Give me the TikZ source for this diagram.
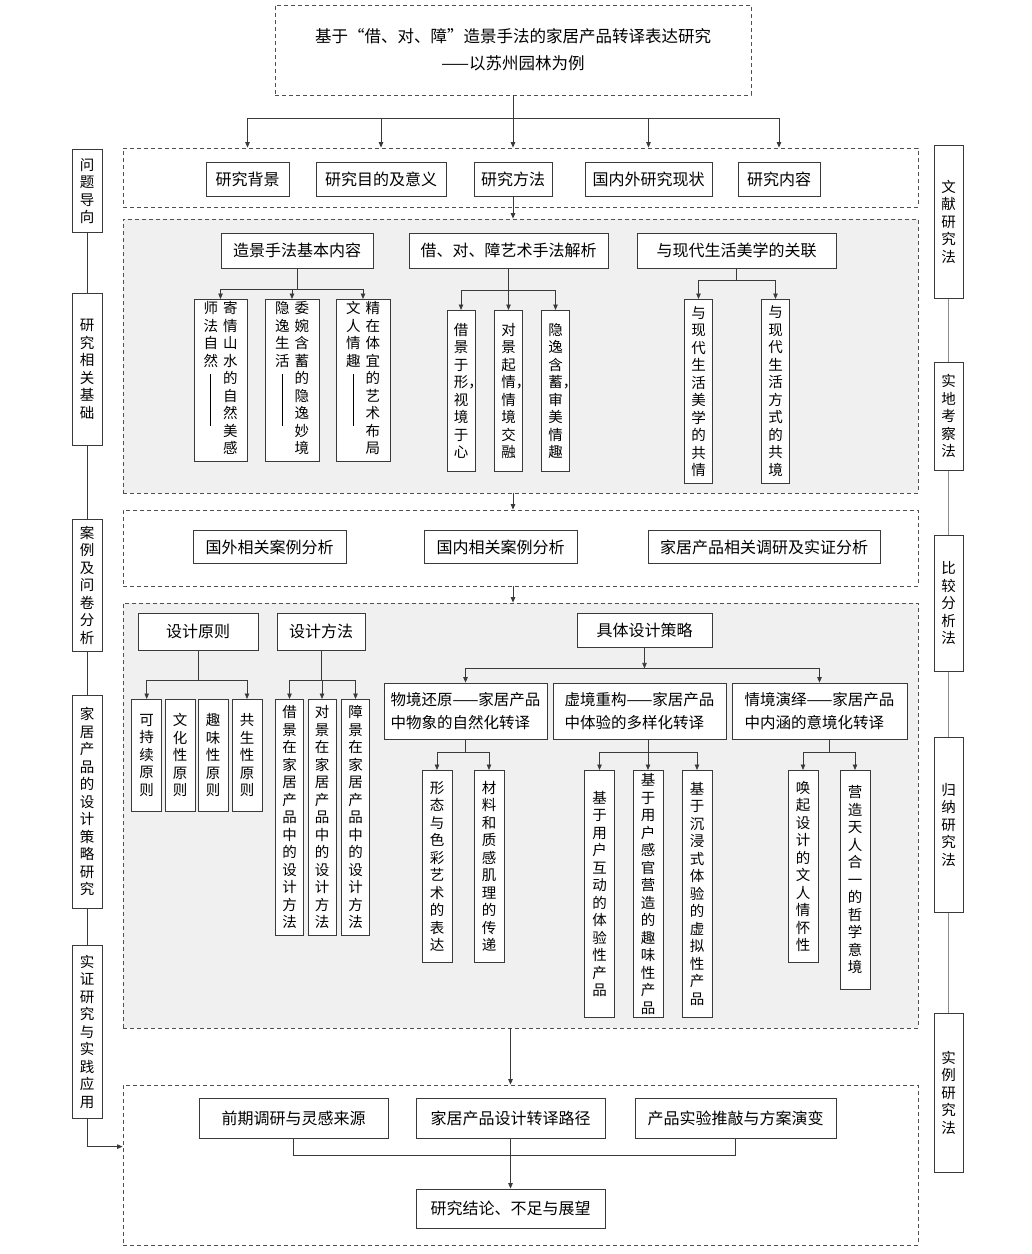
\documentclass[tikz,border=0pt]{standalone}
\usepackage{fontspec}
\setmainfont{Noto Sans CJK SC}
\usetikzlibrary{arrows.meta,fit,calc}
\definecolor{ink}{HTML}{3A3A3A}
\definecolor{dashink}{HTML}{505050}
\definecolor{panel}{HTML}{F0F0F0}
\definecolor{railgray}{HTML}{8C8C8C}
\newcommand{\hfont}{\fontsize{16}{19}\selectfont}
\newcommand{\vfont}{\fontsize{14.5}{17.5}\selectfont}
\newcommand{\tfont}{\fontsize{16.5}{27}\selectfont}
\newcommand{\colrule}{\rule{0.6pt}{52pt}}
\tikzset{
  box/.style={draw=ink, fill=white, line width=0.8pt, inner sep=2pt, align=center, font=\hfont},
  vbox/.style={box, anchor=north, font=\vfont},
  sect/.style={draw=dashink, dash pattern=on 4pt off 3pt, line width=0.8pt, inner sep=0pt},
  panelsect/.style={sect, fill=panel},
  link/.style={draw=ink, line width=0.8pt},
  arr/.style={link, -{Triangle[length=5.5pt,width=4.5pt]}},
  rail/.style={draw=railgray, line width=1.2pt},
}

\begin{document}
\begin{tikzpicture}[x=1pt,y=-1pt]
\useasboundingbox[fill=white] (0,0) rectangle (1032,1254);

\node[sect, minimum width=476pt, minimum height=90pt, align=center, font=\tfont] (title) at (513,50)
  {基于“借、对、障”造景手法的家居产品转译表达研究\\——以苏州园林为例};

% introduction
\node[sect, fit={(123,148) (918,207)}] (s1) {};
\node[box, minimum width=83pt, minimum height=34pt] (b1) at (247.5,179) {研究背景};
\node[box, minimum width=130pt, minimum height=34pt] (b2) at (381,179) {研究目的及意义};
\node[box, minimum width=78pt, minimum height=34pt] (b3) at (513,179) {研究方法};
\node[box, minimum width=127pt, minimum height=34pt] (b4) at (648.5,179) {国内外研究现状};
\node[box, minimum width=82pt, minimum height=34pt] (b5) at (779,179) {研究内容};
\coordinate (tsplit) at (513,118);
\draw[link] (title.south) -- (tsplit);
\draw[link] (tsplit -| b1) -- (tsplit -| b5);
\foreach \b in {b1,b2,b3,b4,b5}
  \draw[arr] (tsplit -| \b) -- (\b |- s1.north);

% theory
\node[panelsect, fit={(123,219) (918,493)}] (s2) {};
\draw[arr] (b3.south) -- (b3 |- s2.north);
\node[box, minimum width=152pt, minimum height=35pt] (p1) at (297,250.5) {造景手法基本内容};
\node[box, minimum width=199pt, minimum height=35pt] (p2) at (508.5,250.5) {借、对、障艺术手法解析};
\node[box, minimum width=199pt, minimum height=35pt] (p3) at (736.5,250.5) {与现代生活美学的关联};
\node[vbox, minimum width=53pt, minimum height=162pt] (c1a) at (220.5,299)
  {\begin{tabular}[t]{@{}c@{}}师\\法\\自\\然\\[2pt]\colrule\end{tabular}\hspace{5pt}\begin{tabular}[t]{@{}c@{}}寄\\情\\山\\水\\的\\自\\然\\美\\感\end{tabular}};
\node[vbox, minimum width=54pt, minimum height=162pt] (c1b) at (292,299)
  {\begin{tabular}[t]{@{}c@{}}隐\\逸\\生\\活\\[2pt]\colrule\end{tabular}\hspace{5pt}\begin{tabular}[t]{@{}c@{}}委\\婉\\含\\蓄\\的\\隐\\逸\\妙\\境\end{tabular}};
\node[vbox, minimum width=54pt, minimum height=162pt] (c1c) at (363,299)
  {\begin{tabular}[t]{@{}c@{}}文\\人\\情\\趣\\[2pt]\colrule\end{tabular}\hspace{5pt}\begin{tabular}[t]{@{}c@{}}精\\在\\体\\宜\\的\\艺\\术\\布\\局\end{tabular}};
\node[vbox, minimum width=28pt, minimum height=161pt] (c2a) at (461,310) {借\\景\\于\\形\rlap{，}\\视\\境\\于\\心};
\node[vbox, minimum width=28pt, minimum height=161pt] (c2b) at (508.5,310) {对\\景\\起\\情\rlap{，}\\情\\境\\交\\融};
\node[vbox, minimum width=28pt, minimum height=161pt] (c2c) at (555.5,310) {隐\\逸\\含\\蓄\rlap{，}\\审\\美\\情\\趣};
\node[vbox, minimum width=28pt, minimum height=184pt] (c3a) at (698.5,299) {与\\现\\代\\生\\活\\美\\学\\的\\共\\情};
\node[vbox, minimum width=28pt, minimum height=184pt] (c3b) at (775.5,299) {与\\现\\代\\生\\活\\方\\式\\的\\共\\境};
\draw[link] (p1.south) -- ++(0,21) coordinate (p1j);
\draw[link] (p1j -| c1a) -- (p1j -| c1c);
\foreach \c in {c1a,c1b,c1c} \draw[arr] (p1j -| \c) -- (\c.north);
\draw[link] (p2.south) -- ++(0,22) coordinate (p2j);
\draw[link] (p2j -| c2a) -- (p2j -| c2c);
\foreach \c in {c2a,c2b,c2c} \draw[arr] (p2j -| \c) -- (\c.north);
\draw[link] (p3.south) -- ++(0,12) coordinate (p3j);
\draw[link] (p3j -| c3a) -- (p3j -| c3b);
\foreach \c in {c3a,c3b} \draw[arr] (p3j -| \c) -- (\c.north);

% cases
\node[sect, fit={(123,510) (918,586)}] (s3) {};
\draw[arr] (s2.south -| b3) -- (s3.north -| b3);
\node[box, minimum width=153pt, minimum height=33pt] (d1) at (269.5,547) {国外相关案例分析};
\node[box, minimum width=153pt, minimum height=33pt] (d2) at (500.5,547) {国内相关案例分析};
\node[box, minimum width=232pt, minimum height=33pt] (d3) at (764,547) {家居产品相关调研及实证分析};

% strategy
\node[panelsect, fit={(123,603) (918,1028)}] (s4) {};
\draw[arr] (s3.south -| b3) -- (s4.north -| b3);
\node[box, minimum width=120pt, minimum height=37pt] (q1) at (198,631.5) {设计原则};
\node[box, minimum width=88pt, minimum height=37pt] (q2) at (321,631.5) {设计方法};
\node[box, minimum width=135pt, minimum height=34pt] (q3) at (644.5,630) {具体设计策略};
\node[vbox, minimum width=30pt, minimum height=112pt] (k1) at (146.7,699) {可\\持\\续\\原\\则};
\node[vbox, minimum width=30pt, minimum height=112pt] (k2) at (180,699) {文\\化\\性\\原\\则};
\node[vbox, minimum width=30pt, minimum height=112pt] (k3) at (213,699) {趣\\味\\性\\原\\则};
\node[vbox, minimum width=30pt, minimum height=112pt] (k4) at (247,699) {共\\生\\性\\原\\则};
\node[vbox, minimum width=28pt, minimum height=236pt] (m1) at (289.5,699) {借\\景\\在\\家\\居\\产\\品\\中\\的\\设\\计\\方\\法};
\node[vbox, minimum width=28pt, minimum height=236pt] (m2) at (322,699) {对\\景\\在\\家\\居\\产\\品\\中\\的\\设\\计\\方\\法};
\node[vbox, minimum width=28pt, minimum height=236pt] (m3) at (355.5,699) {障\\景\\在\\家\\居\\产\\品\\中\\的\\设\\计\\方\\法};
\draw[link] (q1.south) -- ++(0,30) coordinate (q1j);
\draw[link] (q1j -| k1) -- (q1j -| k4);
\foreach \c in {k1,k4} \draw[arr] (q1j -| \c) -- (\c.north);
\draw[link] (q2.south) -- ++(0,30) coordinate (q2j);
\draw[link] (q2j -| m1) -- (q2j -| m3);
\foreach \c in {m1,m2,m3} \draw[arr] (q2j -| \c) -- (\c.north);

\node[box, align=left, font=\fontsize{15.5}{23}\selectfont, minimum width=163pt, minimum height=56pt] (r1) at (465.5,711) {物境还原——家居产品\\中物象的自然化转译};
\node[box, align=left, font=\fontsize{15.5}{23}\selectfont, minimum width=173pt, minimum height=56pt] (r2) at (639.5,711) {虚境重构——家居产品\\中体验的多样化转译};
\node[box, align=left, font=\fontsize{15.5}{23}\selectfont, minimum width=175pt, minimum height=56pt] (r3) at (819.5,711) {情境演绎——家居产品\\中内涵的意境化转译};
\draw[arr] (q3.south) -- ++(0,21) coordinate (q3j);
\draw[link] (q3j -| r1) -- (q3j -| r3);
\foreach \c in {r1,r3} \draw[arr] (q3j -| \c) -- (\c.north);

\node[vbox, minimum width=30pt, minimum height=192pt] (e1) at (437,770) {形\\态\\与\\色\\彩\\艺\\术\\的\\表\\达};
\node[vbox, minimum width=30pt, minimum height=192pt] (e2) at (489,770) {材\\料\\和\\质\\感\\肌\\理\\的\\传\\递};
\node[vbox, minimum width=30pt, minimum height=247pt] (f1) at (599.5,770) {基\\于\\用\\户\\互\\动\\的\\体\\验\\性\\产\\品};
\node[vbox, minimum width=30pt, minimum height=247pt] (f2) at (648,770) {基\\于\\用\\户\\感\\官\\营\\造\\的\\趣\\味\\性\\产\\品};
\node[vbox, minimum width=30pt, minimum height=247pt] (f3) at (697,770) {基\\于\\沉\\浸\\式\\体\\验\\的\\虚\\拟\\性\\产\\品};
\node[vbox, minimum width=30pt, minimum height=192pt] (g1) at (803,770) {唤\\起\\设\\计\\的\\文\\人\\情\\怀\\性};
\node[vbox, minimum width=30pt, minimum height=219pt] (g2) at (855,770) {营\\造\\天\\人\\合\\一\\的\\哲\\学\\意\\境};
\draw[link] (r1.south) -- ++(0,13) coordinate (r1j);
\draw[link] (r1j -| e1) -- (r1j -| e2);
\foreach \c in {e1,e2} \draw[arr] (r1j -| \c) -- (\c.north);
\draw[link] (r2.south -| f2) -- ++(0,13) coordinate (r2j);
\draw[link] (r2j -| f1) -- (r2j -| f3);
\foreach \c in {f1,f2,f3} \draw[arr] (r2j -| \c) -- (\c.north);
\coordinate (g12) at ($(g1.north)!.5!(g2.north)$);
\draw[link] (r3.south -| g12) -- ++(0,13) coordinate (r3j);
\draw[link] (r3j -| g1) -- (r3j -| g2);
\foreach \c in {g1,g2} \draw[arr] (r3j -| \c) -- (\c.north);

% practice
\node[sect, fit={(123,1085) (918,1245)}] (s5) {};
\node[box, minimum width=189pt, minimum height=40pt] (h1) at (293.5,1118) {前期调研与灵感来源};
\node[box, minimum width=189pt, minimum height=40pt] (h2) at (510.5,1118) {家居产品设计转译路径};
\node[box, minimum width=201pt, minimum height=40pt] (h3) at (735.5,1118) {产品实验推敲与方案演变};
\node[box, minimum width=189pt, minimum height=39pt] (h4) at (510.5,1208.5) {研究结论、不足与展望};
\draw[arr] (s4.south -| h2) -- (s5.north -| h2);
\draw[link] (h1.south) -- ++(0,17) -| (h3.south);
\draw[arr] (h2.south) -- (h4.north);

% left column
\node[vbox, minimum width=30pt, minimum height=83pt] (L1) at (87,149) {问\\题\\导\\向};
\node[vbox, minimum width=30pt, minimum height=152pt] (L2) at (87,293) {研\\究\\相\\关\\基\\础};
\node[vbox, minimum width=30pt, minimum height=132pt] (L3) at (87,519) {案\\例\\及\\问\\卷\\分\\析};
\node[vbox, minimum width=30pt, minimum height=213pt] (L4) at (87,695) {家\\居\\产\\品\\的\\设\\计\\策\\略\\研\\究};
\node[vbox, minimum width=30pt, minimum height=173pt] (L5) at (87,945) {实\\证\\研\\究\\与\\实\\践\\应\\用};
\foreach \a/\b in {L1/L2,L2/L3,L3/L4,L4/L5}
  \draw[link] (\a.south) -- (\b.north);
\coordinate (s5in) at ($(s5.north west)+(0,62)$);
\draw[arr] (L5.south) |- (s5in);

% right column
\node[vbox, minimum width=29pt, minimum height=153pt] (R1) at (948.5,145) {文\\献\\研\\究\\法};
\node[vbox, minimum width=29pt, minimum height=108pt] (R2) at (948.5,362) {实\\地\\考\\察\\法};
\node[vbox, minimum width=29pt, minimum height=136pt] (R3) at (948.5,535) {比\\较\\分\\析\\法};
\node[vbox, minimum width=29pt, minimum height=175pt] (R4) at (948.5,737) {归\\纳\\研\\究\\法};
\node[vbox, minimum width=29pt, minimum height=159pt] (R5) at (948.5,1013) {实\\例\\研\\究\\法};
\foreach \a/\b in {R1/R2,R2/R3,R3/R4,R4/R5}
  \draw[rail] (\a.south) -- (\b.north);
\end{tikzpicture}
\end{document}
